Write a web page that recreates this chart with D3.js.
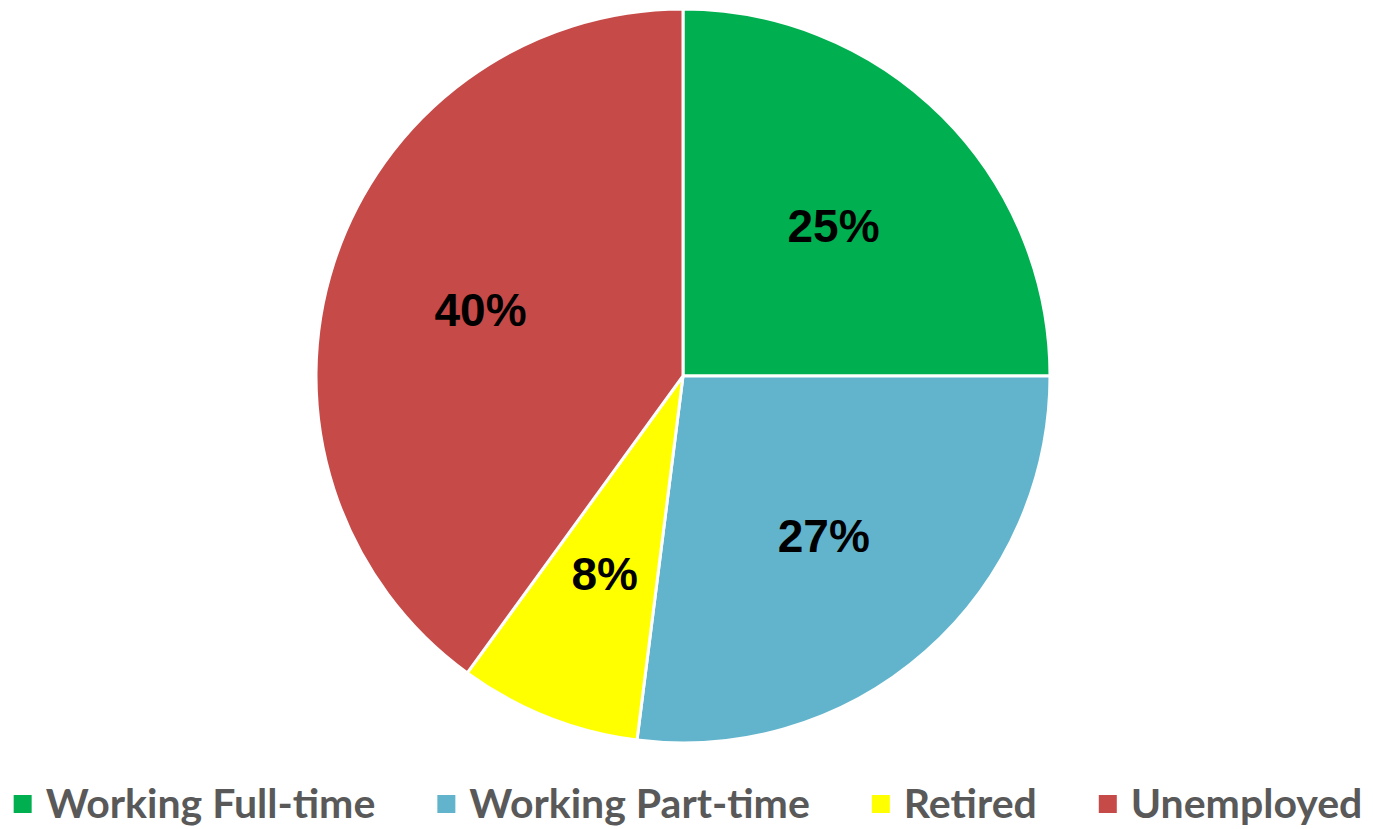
<!DOCTYPE html>
<html>
<head>
<meta charset="utf-8">
<script src="https://cdn.jsdelivr.net/npm/d3@7"></script>
<style>
  body { margin: 0; background: #fff; }
  .sliceLabel { font-family: "Liberation Sans", Arial, sans-serif; font-weight: bold; font-size: 46px; fill: #000; }
  .legendLabel { font-family: Lato, "Open Sans", sans-serif; font-weight: bold; font-size: 41px; fill: #595959; }
</style>
</head>
<body>
<div id="chart"></div>
<script>
var categories = ["Working Full-time", "Working Part-time", "Retired", "Unemployed"];
var shares = [25, 27, 8, 40];
var colors = ["#00b050", "#62b4cd", "#ffff00", "#c64a48"];

var width = 1374, height = 829;
var cx = 683, cy = 376, radius = 367;

var svg = d3.select("#chart")
    .append("svg")
    .attr("width", width)
    .attr("height", height);

var data = categories.map(function(d, i) { return {name: d, value: shares[i], color: colors[i]}; });

var pie = d3.pie()
    .sort(null)
    .value(function(d) { return d.value; });

var arc = d3.arc()
    .innerRadius(0)
    .outerRadius(radius);

// labels sit a bit past the middle of each slice
var labelArc = d3.arc()
    .innerRadius(radius * 0.58)
    .outerRadius(radius * 0.58);

var g = svg.append("g")
    .attr("transform", "translate(" + cx + "," + cy + ")");

var arcs = pie(data);

g.selectAll(".slice")
    .data(arcs)
    .enter()
    .append("path")
    .attr("class", "slice")
    .attr("d", arc)
    .style("fill", function(d) { return d.data.color; })
    .style("stroke", "#fff")
    .style("stroke-width", 3);

g.selectAll(".sliceLabel")
    .data(arcs)
    .enter()
    .append("text")
    .attr("class", "sliceLabel")
    .attr("transform", function(d) { return "translate(" + labelArc.centroid(d) + ")"; })
    .attr("text-anchor", "middle")
    .attr("dy", "0.35em")
    .text(function(d) { return d.data.value + "%"; });

// legend along the bottom, centred as a whole
var legend = svg.append("g").attr("class", "legend");
var boxSize = 18, boxGap = 14, itemGap = 62;

var items = legend.selectAll(".legendItem")
    .data(data)
    .enter()
    .append("g")
    .attr("class", "legendItem");

items.append("rect")
    .attr("width", boxSize)
    .attr("height", boxSize)
    .attr("y", -boxSize / 2)
    .style("fill", function(d) { return d.color; });

items.append("text")
    .attr("class", "legendLabel")
    .attr("x", boxSize + boxGap)
    .attr("dy", "0.35em")
    .text(function(d) { return d.name; });

var x = 0;
items.each(function() {
    var w = boxSize + boxGap + d3.select(this).select("text").node().getComputedTextLength();
    d3.select(this).attr("transform", "translate(" + x + ",0)");
    x += w + itemGap;
});
var totalWidth = x - itemGap;
legend.attr("transform", "translate(" + ((width - totalWidth) / 2 + 1) + ",804)");
</script>
</body>
</html>
